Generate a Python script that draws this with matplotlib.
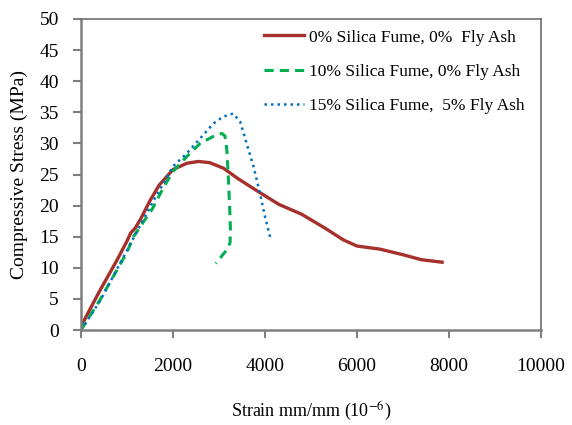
import numpy as np
import matplotlib
matplotlib.use("Agg")
import matplotlib.pyplot as plt

# strain (10^-6) and stress (MPa)
strain_0sf = [0, 100, 400, 780, 1000, 1080, 1180, 1300, 1500, 1700, 2000, 2300, 2550,
              2800, 3100, 3400, 3800, 4300, 4800, 5300, 5700, 6000, 6500, 7000, 7400, 7850]
stress_0sf = [0.5, 2.0, 6.2, 11.2, 14.3, 15.6, 16.4, 17.9, 20.8, 23.3, 25.8, 26.8, 27.1,
              26.9, 26.0, 24.4, 22.5, 20.2, 18.6, 16.4, 14.5, 13.5, 13.0, 12.1, 11.3, 10.9]

strain_10sf = [0, 410, 1000, 1140, 1560, 1800, 2000, 2300, 2590, 2870, 3060, 3130,
               3170, 3200, 3230, 3250, 3240, 3170, 3050, 2930]
stress_10sf = [0, 4.8, 12.5, 15.0, 19.6, 23.0, 25.5, 27.9, 30.0, 31.1, 31.6, 31.2,
               29.0, 25.0, 20.0, 16.0, 14.0, 12.9, 11.8, 10.7]

strain_15sf = [0, 400, 1000, 1500, 2000, 2300, 2590, 2880, 3090, 3310, 3460, 3600,
               3750, 3890, 4000, 4120]
stress_15sf = [0, 4.5, 12.8, 19.8, 26.3, 28.4, 30.8, 33.2, 34.3, 34.8, 33.5, 30.0,
               26.3, 22.0, 18.2, 14.7]

labels = ["0% Silica Fume, 0%  Fly Ash",
          "10% Silica Fume, 0% Fly Ash",
          "15% Silica Fume,  5% Fly Ash"]

plt.rcParams["font.family"] = ["Liberation Serif", "DejaVu Serif"]
plt.rcParams["mathtext.fontset"] = "stix"

fig = plt.figure(figsize=(5.72, 4.25), dpi=100)
ax = fig.add_axes([0.1416, 0.2235, 0.8042, 0.7318])

ax.plot(strain_0sf, stress_0sf, color="#A5302C", lw=2.4, label=labels[0])
ax.plot(strain_10sf, stress_10sf, color="#00B050", lw=2.2, ls=(0, (3, 2)), label=labels[1])
ax.plot(strain_15sf, stress_15sf, color="#0070C0", lw=1.8, ls=(0, (1, 1.6)), label=labels[2])

ax.set_xlim(0, 10000)
ax.set_ylim(0, 50)
ax.set_xticks(np.arange(0, 10001, 2000))
ax.set_yticks(np.arange(0, 51, 5))

for side in ["left", "bottom"]:
    ax.spines[side].set_color("#7f7f7f")
    ax.spines[side].set_linewidth(1.8)
for side in ["top", "right"]:
    ax.spines[side].set_color("#6f6f6f")
    ax.spines[side].set_linewidth(1.2)

ax.tick_params(axis="x", direction="out", length=6, width=1.5, color="#7f7f7f",
               pad=14, labelsize=14)
ax.tick_params(axis="y", direction="out", length=6, width=1.5, color="#7f7f7f",
               pad=10, labelsize=14)

ax.set_xlabel("Strain mm/mm (10$^{-6}$)", fontsize=13, labelpad=18)
ax.set_ylabel("Compressive Stress (MPa)", fontsize=14, labelpad=8)

leg = ax.legend(loc="upper right", frameon=False, fontsize=12.5, handlelength=2.3,
                handletextpad=0.3, labelspacing=1.05, bbox_to_anchor=(0.988, 1.0),
                borderaxespad=0.2)

fig.savefig("out.png", dpi=100)
